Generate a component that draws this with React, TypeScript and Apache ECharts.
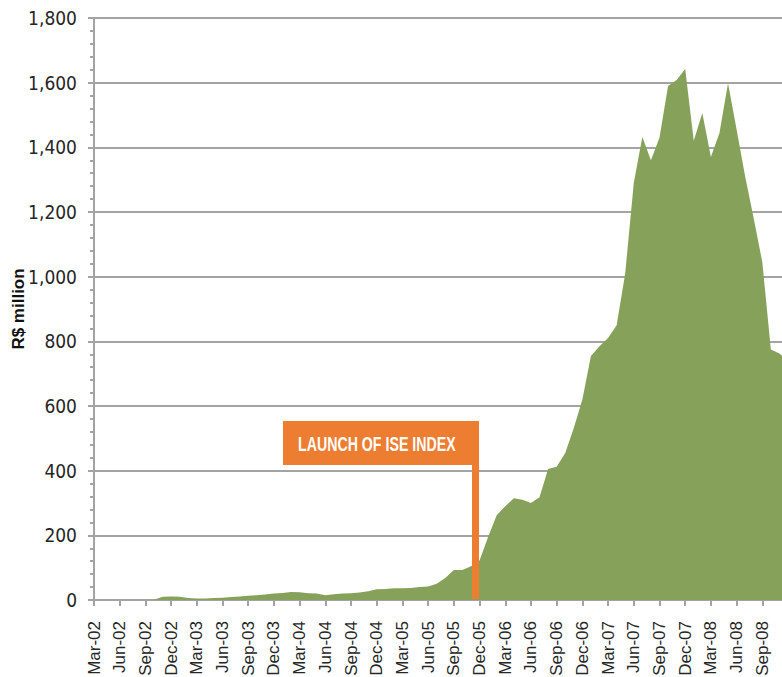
import React, { useEffect, useRef } from "react";
import * as echarts from "echarts";

const categories = [
  "Mar-02","Apr-02","May-02","Jun-02","Jul-02","Aug-02","Sep-02","Oct-02","Nov-02","Dec-02",
  "Jan-03","Feb-03","Mar-03","Apr-03","May-03","Jun-03","Jul-03","Aug-03","Sep-03","Oct-03","Nov-03","Dec-03",
  "Jan-04","Feb-04","Mar-04","Apr-04","May-04","Jun-04","Jul-04","Aug-04","Sep-04","Oct-04","Nov-04","Dec-04",
  "Jan-05","Feb-05","Mar-05","Apr-05","May-05","Jun-05","Jul-05","Aug-05","Sep-05","Oct-05","Nov-05","Dec-05",
  "Jan-06","Feb-06","Mar-06","Apr-06","May-06","Jun-06","Jul-06","Aug-06","Sep-06","Oct-06","Nov-06","Dec-06",
  "Jan-07","Feb-07","Mar-07","Apr-07","May-07","Jun-07","Jul-07","Aug-07","Sep-07","Oct-07","Nov-07","Dec-07",
  "Jan-08","Feb-08","Mar-08","Apr-08","May-08","Jun-08","Jul-08","Aug-08","Sep-08","Oct-08","Nov-08","Dec-08",
];

const values = [
  0, 0, 0, 0, 0, 0, 0,
  1, 10, 11, 10, 6,
  5, 5, 6, 7, 9, 11, 13, 15, 17, 20,
  22, 25, 24, 21, 20, 15, 18, 20, 21, 23, 27, 33,
  34, 36, 36, 37, 40, 42, 50, 68, 93, 93, 104, 122,
  195, 262, 290, 315, 310, 300, 318, 405, 412, 455, 532, 620,
  755, 785, 810, 850, 1010, 1290, 1432, 1360, 1430, 1590, 1608, 1642,
  1420, 1506, 1370, 1444, 1598, 1455, 1310, 1180, 1045, 775, 762, 740,
];

const yTicks = { min: 0, max: 1800, interval: 200 };
const axisTitle = "R$ million";
const annotationText = "LAUNCH OF ISE INDEX";
const lastLabelledIndex = 78; // Sep-08

const GRAY = "#a3a3a3";
const ORANGE = "#ED7D31";
const TEXT = "#262626";

export default function App() {
  const ref = useRef<HTMLDivElement>(null);
  useEffect(() => {
    document.body.style.margin = "0";
    const chart = echarts.init(ref.current!, null, { renderer: "svg" });
    chart.setOption({
      animation: false,
      grid: {
        left: 94,
        top: 18,
        width: 694,
        height: 582,
        containLabel: false,
        outerBoundsMode: "none",
      },
      xAxis: {
        type: "category",
        data: categories,
        boundaryGap: false,
        axisLine: { lineStyle: { color: GRAY, width: 2 } },
        axisTick: { interval: 2, length: 6, lineStyle: { color: GRAY, width: 2 } },
        axisLabel: {
          interval: (idx: number) => idx % 3 === 0 && idx <= lastLabelledIndex,
          rotate: 90,
          margin: 21,
          fontSize: 17,
          hideOverlap: false,
          fontFamily: "'Liberation Sans', Arial, sans-serif",
          color: TEXT,
        },
        splitLine: { show: false },
      },
      yAxis: {
        type: "value",
        min: yTicks.min,
        max: yTicks.max,
        interval: yTicks.interval,
        axisLine: { show: true, lineStyle: { color: GRAY, width: 2 } },
        axisTick: { show: true, length: 6, lineStyle: { color: GRAY, width: 2 } },
        minorTick: { show: true, splitNumber: 5, length: 4, lineStyle: { color: GRAY, width: 2 } },
        axisLabel: {
          formatter: (v: number) => v.toLocaleString("en-US"),
          margin: 17,
          fontSize: 19,
          fontFamily: "'Liberation Sans Narrow', 'Arial Narrow', 'DejaVu Sans Condensed', sans-serif",
          color: TEXT,
        },
        splitLine: { lineStyle: { color: GRAY, width: 2 } },
      },
      series: [
        {
          type: "line",
          data: values,
          symbol: "none",
          lineStyle: { width: 0 },
          areaStyle: { color: "#86A15A", opacity: 1 },
        },
      ],
      graphic: [
        {
          type: "text",
          x: 18,
          y: 309,
          rotation: Math.PI / 2,
          z: 101,
          style: {
            text: axisTitle,
            fill: "#111111",
            font: "bold 17px 'Liberation Sans', Arial, sans-serif",
            align: "center",
            verticalAlign: "middle",
          },
        },
        { type: "rect", shape: { x: 283, y: 421, width: 196, height: 44 }, style: { fill: ORANGE }, z: 100 },
        { type: "rect", shape: { x: 472, y: 421, width: 7, height: 178 }, style: { fill: ORANGE }, z: 100 },
        {
          type: "text",
          x: 298,
          y: 444,
          scaleX: 0.71,
          z: 101,
          style: {
            text: annotationText,
            fill: "#ffffff",
            font: "bold 20px 'Liberation Sans', Arial, sans-serif",
            verticalAlign: "middle",
          },
        },
      ],
    });
    return () => chart.dispose();
  }, []);
  return <div ref={ref} style={{ width: 782, height: 677 }} />;
}
